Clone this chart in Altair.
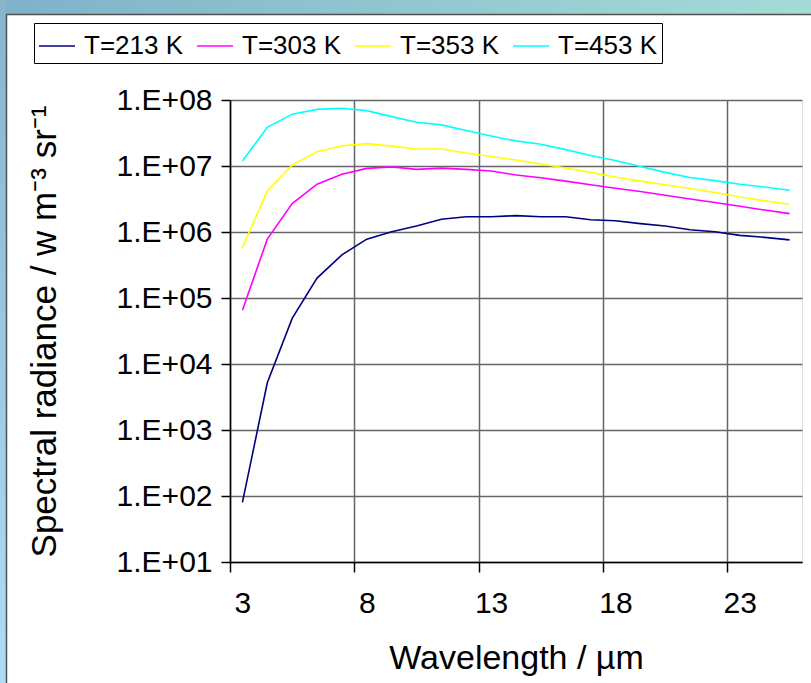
import altair as alt
import pandas as pd

# ---- data ----
wavelength = list(range(3, 26))
series_names = ["T=213 K", "T=303 K", "T=353 K", "T=453 K"]
series_colors = ["#000080", "#FF00FF", "#FFFF00", "#00FFFF"]

t213 = [80, 5.2e3, 4.9e4, 2.0e5, 4.5e5, 7.8e5, 1.01e6, 1.23e6, 1.56e6, 1.7e6, 1.7e6,
        1.77e6, 1.7e6, 1.7e6, 1.53e6, 1.48e6, 1.34e6, 1.23e6, 1.08e6, 1.01e6, 8.9e5,
        8.3e5, 7.6e5]
t303 = [6.5e4, 7.8e5, 2.7e6, 5.3e6, 7.5e6, 9.2e6, 9.7e6, 8.9e6, 9.3e6, 8.9e6, 8.4e6,
        7.3e6, 6.65e6, 5.9e6, 5.2e6, 4.6e6, 4.1e6, 3.6e6, 3.16e6, 2.8e6, 2.45e6,
        2.15e6, 1.9e6]
t353 = [5.8e5, 4.2e6, 1.03e7, 1.65e7, 2.03e7, 2.18e7, 2.0e7, 1.81e7, 1.81e7, 1.57e7,
        1.39e7, 1.23e7, 1.07e7, 9.3e6, 8.0e6, 6.8e6, 5.9e6, 5.2e6, 4.57e6, 3.97e6,
        3.39e6, 2.98e6, 2.63e6]
t453 = [1.19e7, 3.85e7, 6.1e7, 7.2e7, 7.5e7, 6.9e7, 5.6e7, 4.6e7, 4.2e7, 3.45e7,
        2.85e7, 2.4e7, 2.13e7, 1.77e7, 1.44e7, 1.21e7, 9.8e6, 8.0e6, 6.7e6, 6.0e6,
        5.3e6, 4.8e6, 4.3e6]

x_tick_bounds = [2.5, 7.5, 12.5, 17.5, 22.5]   # category boundaries every 5 categories
y_ticks = [1e1, 1e2, 1e3, 1e4, 1e5, 1e6, 1e7, 1e8]

rows = []
for name, vals in zip(series_names, [t213, t303, t353, t453]):
    for i, (w, v) in enumerate(zip(wavelength, vals)):
        rows.append({"wavelength": w, "radiance": v, "series": name, "order": i})
df = pd.DataFrame(rows)

FONT = "Liberation Sans"
W, H = 572, 462

lines = alt.Chart(df).mark_line(strokeWidth=1.6).encode(
    x=alt.X("wavelength:Q",
            scale=alt.Scale(domain=[2.5, 25.5], nice=False, zero=False),
            axis=alt.Axis(values=x_tick_bounds,
                          labelExpr="format(datum.value + 0.5, 'd')",
                          labelOffset=12.4, labelFontSize=30, labelFont=FONT,
                          labelColor="black", labelPadding=16, labelFlush=False,
                          labelOverlap=False,
                          tickSize=10, tickColor="black", tickWidth=1.5,
                          domainColor="black", domainWidth=1.5,
                          grid=True, gridColor="#666666", gridWidth=1.5,
                          title="Wavelength / µm", titleFont=FONT, titleFontSize=34,
                          titleFontWeight="normal", titleColor="black",
                          titleY=106, titleBaseline="alphabetic")),
    y=alt.Y("radiance:Q",
            scale=alt.Scale(type="log", domain=[10, 1e8], nice=False),
            axis=alt.Axis(values=y_ticks,
                          labelExpr="'1.E+0' + round(log(datum.value) / LN10)",
                          labelFontSize=30, labelFont=FONT, labelColor="black",
                          labelPadding=9, labelOverlap=False,
                          tickSize=9, tickColor="black", tickWidth=1.5,
                          domainColor="black", domainWidth=1.5,
                          grid=True, gridColor="#666666", gridWidth=1.5,
                          title="Spectral radiance / w m⁻³ sr⁻¹", titleFont=FONT,
                          titleFontSize=35, titleFontWeight="normal",
                          titleColor="black", titleX=-175, titleY=H / 2,
                          titleAngle=-90, titleBaseline="alphabetic",
                          titleAlign="center")),
    color=alt.Color("series:N",
                    scale=alt.Scale(domain=series_names, range=series_colors),
                    legend=alt.Legend(orient="none", legendX=-196, legendY=-77,
                                      direction="horizontal", columns=4, title=None,
                                      symbolType="stroke", symbolSize=1296,
                                      symbolStrokeWidth=1.6, labelFontSize=26,
                                      labelFont=FONT, labelColor="black",
                                      labelOffset=8, columnPadding=9,
                                      strokeColor="black", fillColor="white",
                                      padding=4)),
    order="order:Q",
)

dummy = pd.DataFrame({"a": [0]})

top_band = alt.Chart(dummy).mark_rect(
    color=alt.Gradient(gradient="linear",
                       stops=[alt.GradientStop(color="#7fb2ca", offset=0),
                              alt.GradientStop(color="#a3dcd6", offset=1)],
                       x1=0, x2=1, y1=0, y2=0)
).encode(x=alt.value(-230), x2=alt.value(W + 9), y=alt.value(-100), y2=alt.value(-86))

left_band = alt.Chart(dummy).mark_rect(
    color=alt.Gradient(gradient="linear",
                       stops=[alt.GradientStop(color="#85b6cd", offset=0),
                              alt.GradientStop(color="#aedcf4", offset=1)],
                       x1=0, x2=0, y1=0, y2=1)
).encode(x=alt.value(-230), x2=alt.value(-224), y=alt.value(-100), y2=alt.value(H + 121))

top_rule = alt.Chart(dummy).mark_rule(color="#505050", strokeWidth=1.5).encode(
    x=alt.value(-224), x2=alt.value(W + 9), y=alt.value(-85.5))
left_rule = alt.Chart(dummy).mark_rule(color="#505050", strokeWidth=1.5).encode(
    x=alt.value(-223.5), y=alt.value(-86), y2=alt.value(H + 121))

chart = alt.layer(top_band, left_band, top_rule, left_rule, lines).properties(
    width=W, height=H,
    padding={"left": 230, "top": 100, "right": 9, "bottom": 121},
    autosize=alt.AutoSizeParams(type="none"),
    background="white",
).configure_view(fill="#C0C0C0", stroke="#808080", strokeWidth=1.5
).configure(font=FONT)

chart.save("out.html", embed_options={"renderer": "svg", "actions": False})
